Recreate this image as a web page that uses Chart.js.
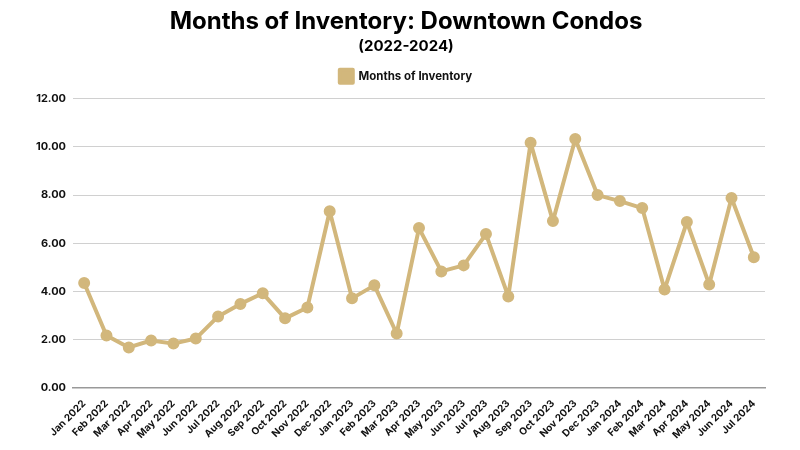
<!DOCTYPE html>
<html>
<head>
<meta charset="utf-8">
<script src="https://cdn.jsdelivr.net/npm/chart.js@4"></script>
<style>
  html, body { margin: 0; padding: 0; background: #fff; }
  #wrap { width: 800px; height: 450px; }
</style>
</head>
<body>
<div id="wrap"><canvas id="inventoryChart" width="800" height="450"></canvas></div>
<script>
// Datos
const months = ['Jan 2022', 'Feb 2022', 'Mar 2022', 'Apr 2022', 'May 2022', 'Jun 2022', 'Jul 2022', 'Aug 2022', 'Sep 2022', 'Oct 2022', 'Nov 2022', 'Dec 2022',
  'Jan 2023', 'Feb 2023', 'Mar 2023', 'Apr 2023', 'May 2023', 'Jun 2023', 'Jul 2023', 'Aug 2023', 'Sep 2023', 'Oct 2023', 'Nov 2023', 'Dec 2023',
  'Jan 2024', 'Feb 2024', 'Mar 2024', 'Apr 2024', 'May 2024', 'Jun 2024', 'Jul 2024'];
const inventory = [4.35, 2.17, 1.67, 1.96, 1.83, 2.04, 2.96, 3.48, 3.92, 2.88, 3.33, 7.33,
  3.71, 4.25, 2.25, 6.63, 4.83, 5.08, 6.38, 3.79, 10.17, 6.92, 10.33, 8.0,
  7.75, 7.46, 4.08, 6.88, 4.29, 7.88, 5.42];
const yTicks = [0, 2, 4, 6, 8, 10, 12];

const gold = '#d2b77c';
const font = 'Inter, "DejaVu Sans", sans-serif';

// espacio extra bajo la leyenda
const legendGap = {
  id: 'legendGap',
  beforeInit(chart) {
    const fit = chart.legend.fit;
    chart.legend.fit = function () {
      fit.call(this);
      this.height += 6;
    };
  }
};

const ctx = document.getElementById('inventoryChart').getContext('2d');
new Chart(ctx, {
  type: 'line',
  data: {
    labels: months,
    datasets: [{
      label: 'Months of Inventory',
      data: inventory,
      borderColor: gold,
      backgroundColor: gold,
      borderWidth: 4,
      borderJoinStyle: 'round',
      borderCapStyle: 'round',
      pointRadius: 4,
      pointBackgroundColor: gold,
      pointBorderColor: gold,
      tension: 0
    }]
  },
  plugins: [legendGap],
  options: {
    responsive: false,
    animation: false,
    layout: { padding: { left: 47, right: 35, top: 0, bottom: 7 } },
    plugins: {
      title: {
        display: true,
        text: 'Months of Inventory: Downtown Condos',
        color: '#000',
        font: { family: font, size: 24, weight: 'bold' },
        padding: { top: 7, bottom: 0 }
      },
      subtitle: {
        display: true,
        text: '(2022-2024)',
        color: '#000',
        font: { family: font, size: 15, weight: 'bold' },
        padding: { top: 2, bottom: 0 }
      },
      legend: {
        position: 'top',
        labels: {
          boxWidth: 13,
          boxHeight: 13,
          padding: 14,
          color: '#111',
          font: { family: font, size: 11.5, weight: 'bold' }
        }
      },
      tooltip: { enabled: false }
    },
    scales: {
      x: {
        offset: true,
        grid: { display: false },
        border: { color: '#999', width: 1.5 },
        ticks: {
          color: '#111',
          maxRotation: 45,
          minRotation: 45,
          autoSkip: false,
          padding: 2,
          font: { family: font, size: 10, weight: 'bold' }
        }
      },
      y: {
        min: 0,
        max: 12,
        afterBuildTicks: axis => { axis.ticks = yTicks.map(v => ({ value: v })); },
        afterFit: axis => {
          // narrow axis box, labels spill into the left padding
          axis.width = 26;
          axis._computeLabelArea = () => undefined;
        },
        grid: { color: '#d0d0d0', drawTicks: false },
        border: { display: false },
        ticks: {
          color: '#111',
          padding: 7,
          font: { family: font, size: 11, weight: 'bold' },
          callback: v => Number(v).toFixed(2)
        }
      }
    }
  }
});
</script>
</body>
</html>
